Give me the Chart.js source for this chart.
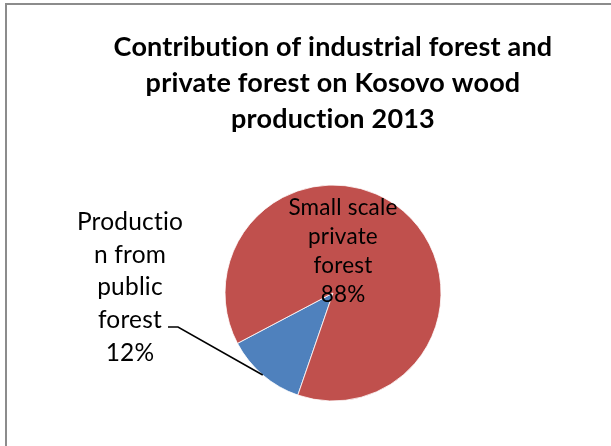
<!DOCTYPE html>
<html>
<head>
<meta charset="utf-8">
<script src="https://cdn.jsdelivr.net/npm/chart.js@4"></script>
<style>
  html, body { margin: 0; padding: 0; background: #fff; overflow: hidden; }
  #wrap { position: relative; width: 611px; height: 446px; }
  #woodChart { position: absolute; left: 0; top: 0; }
  /* frame of the chart object, only top and left edges fall inside the view */
  #frame { position: absolute; left: 5px; top: 3px; width: 700px; height: 500px;
           border-top: 2px solid #8c8c8c; border-left: 2px solid #8c8c8c; pointer-events: none; }
</style>
</head>
<body>
<div id="wrap">
  <canvas id="woodChart" width="611" height="446"></canvas>
  <div id="frame"></div>
</div>
<script>
const categories = ["Production from public forest", "Small scale private forest"];
const shares = [12, 88];
const sliceColors = ["#4F81BD", "#C0504D"];
// label text broken the same way the data labels wrap
const labelLines = [
  ["Productio", "n from", "public", "forest"],
  ["Small scale", "private", "forest"]
];
const titleLines = [
  "Contribution of industrial forest and",
  "private forest on Kosovo wood",
  "production 2013"
];

// keep Lato from joining "ti" into a ligature
const noLigatures = {
  id: "noLigatures",
  beforeDraw(chart) {
    chart.ctx.letterSpacing = "0.2px";
    chart.ctx.textRendering = "optimizeSpeed";
  }
};

// draws category name + percent for every slice, with a leader line when asked
const sliceLabels = {
  id: "sliceLabels",
  afterDatasetsDraw(chart, args, opts) {
    const ctx = chart.ctx;
    const meta = chart.getDatasetMeta(0);
    ctx.save();
    ctx.fillStyle = "#000";
    ctx.textAlign = "center";
    ctx.textBaseline = "middle";
    meta.data.forEach((arc, i) => {
      const p = arc.getProps(["x", "y", "startAngle", "endAngle", "outerRadius"], true);
      const place = opts.placement[i];
      const lines = labelLines[i].concat(shares[i] + "%");
      ctx.font = place.size + "px Lato";
      lines.forEach((t, k) => {
        ctx.fillText(t, p.x + place.dx, p.y + place.dy + k * place.lineHeight);
      });
      if (place.leader) {
        const mid = (p.startAngle + p.endAngle) / 2;
        const lx = p.x + place.leader[0], ly = p.y + place.leader[1];
        ctx.beginPath();
        ctx.strokeStyle = "#000";
        ctx.lineWidth = 1.5;
        ctx.moveTo(lx, ly);
        ctx.lineTo(lx + 10, ly);
        ctx.lineTo(p.x + Math.cos(mid) * p.outerRadius, p.y + Math.sin(mid) * p.outerRadius);
        ctx.stroke();
      }
    });
    ctx.restore();
  }
};

const config = {
  type: "pie",
  data: {
    labels: categories,
    datasets: [{
      data: shares,
      backgroundColor: sliceColors,
      borderColor: "#ffffff",
      borderWidth: 0.8
    }]
  },
  options: {
    responsive: false,
    animation: false,
    rotation: 199,
    radius: 108,
    layout: { padding: { left: 60, right: 5, top: 0, bottom: 45 } },
    plugins: {
      legend: { display: false },
      tooltip: { enabled: false },
      title: {
        display: true,
        text: titleLines,
        color: "#000",
        font: { family: "Lato", size: 27, weight: "bold", lineHeight: 36 / 27 },
        padding: { top: 29, bottom: 48 }
      },
      sliceLabels: {
        placement: [
          { dx: -203, dy: -71, lineHeight: 32.7, size: 24.5, leader: [-165, 34] },
          { dx: 10, dy: -85, lineHeight: 29, size: 22.5 }
        ]
      }
    }
  },
  plugins: [noLigatures, sliceLabels]
};

new Chart(document.getElementById("woodChart"), config);
</script>
</body>
</html>
